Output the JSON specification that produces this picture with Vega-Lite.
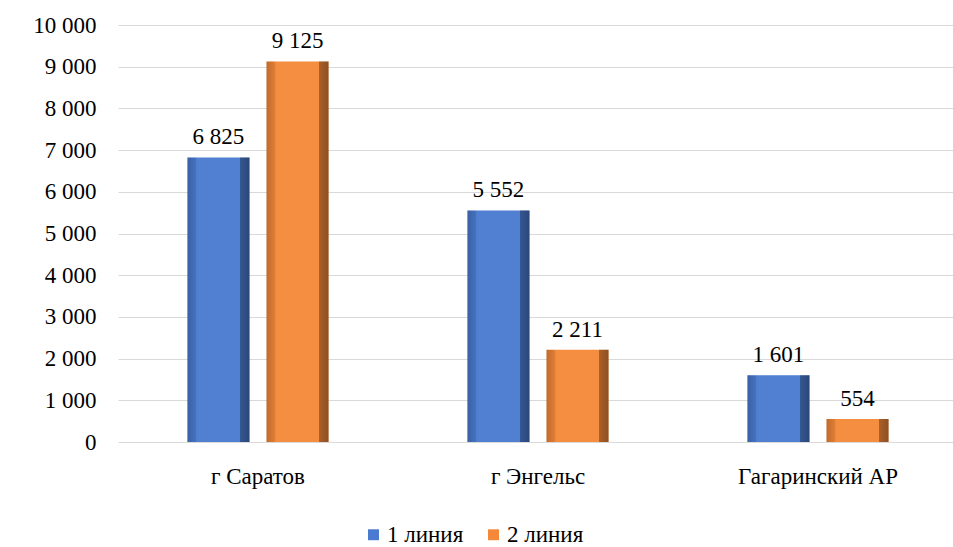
{
  "$schema": "https://vega.github.io/schema/vega-lite/v6.json",
  "width": 840,
  "height": 417,
  "autosize": "none",
  "padding": {"left": 118, "top": 25, "right": 0, "bottom": 105},
  "config": {
    "font": "'Liberation Serif', 'DejaVu Serif', serif",
    "locale": {"number": {"decimal": ",", "thousands": "\u00a0", "grouping": [3], "currency": ["", ""]}},
    "view": {"stroke": null}
  },
  "data": {"values": [
    {"cat": "г Саратов", "series": "1 линия", "value": 6825},
    {"cat": "г Саратов", "series": "2 линия", "value": 9125},
    {"cat": "г Энгельс", "series": "1 линия", "value": 5552},
    {"cat": "г Энгельс", "series": "2 линия", "value": 2211},
    {"cat": "Гагаринский АР", "series": "1 линия", "value": 1601},
    {"cat": "Гагаринский АР", "series": "2 линия", "value": 554}
  ]},
  "encoding": {
    "x": {"field": "cat", "type": "nominal", "sort": null,
      "scale": {"paddingInner": 0.496, "paddingOuter": 0.248},
      "axis": {"title": null, "labelAngle": 0, "labelFont": "'Liberation Serif', 'DejaVu Serif', serif", "labelFontSize": 23, "labelColor": "#000", "domain": false, "ticks": false, "labelPadding": 23}},
    "xOffset": {"field": "series", "type": "nominal", "scale": {"paddingInner": 0.215, "paddingOuter": 0}},
    "y": {"field": "value", "type": "quantitative",
      "scale": {"domain": [0, 10000], "nice": false},
      "axis": {"title": null, "values": [0,1000,2000,3000,4000,5000,6000,7000,8000,9000,10000], "format": ",d", "labelFont": "'Liberation Serif', 'DejaVu Serif', serif", "labelFontSize": 23, "labelColor": "#000", "domain": false, "ticks": false, "labelPadding": 22, "gridColor": "#d9d9d9", "gridWidth": 1.2}}
  },
  "layer": [
    {
      "mark": {"type": "bar"},
      "encoding": {
        "color": {"field": "series", "type": "nominal",
          "scale": {"domain": ["1 линия", "2 линия"], "range": ["#4a7bd0", "#f48939"]},
          "legend": {"title": null, "orient": "none", "legendX": 244, "legendY": 498, "direction": "horizontal", "symbolType": "square", "symbolSize": 120, "symbolStrokeWidth": 0, "labelFont": "'Liberation Serif', 'DejaVu Serif', serif", "labelFontSize": 23, "labelColor": "#000", "columnPadding": 18, "labelOffset": 2}}
      }
    },
    {
      "mark": {"type": "bar", "color": {"gradient": "linear", "x1": 0, "x2": 1, "y1": 0, "y2": 0, "stops": [
        {"offset": 0, "color": "rgba(0,0,0,0.22)"},
        {"offset": 0.14, "color": "rgba(0,0,0,0.08)"},
        {"offset": 0.15, "color": "rgba(255,255,255,0.04)"},
        {"offset": 0.84, "color": "rgba(255,255,255,0.04)"},
        {"offset": 0.85, "color": "rgba(0,0,0,0.3)"},
        {"offset": 1, "color": "rgba(0,0,0,0.42)"}
      ]}}
    },
    {
      "mark": {"type": "text", "baseline": "bottom", "dy": -8, "fontSize": 23, "font": "'Liberation Serif', 'DejaVu Serif', serif", "color": "#000"},
      "encoding": {"text": {"field": "value", "type": "quantitative", "format": ",d"}}
    }
  ]
}
